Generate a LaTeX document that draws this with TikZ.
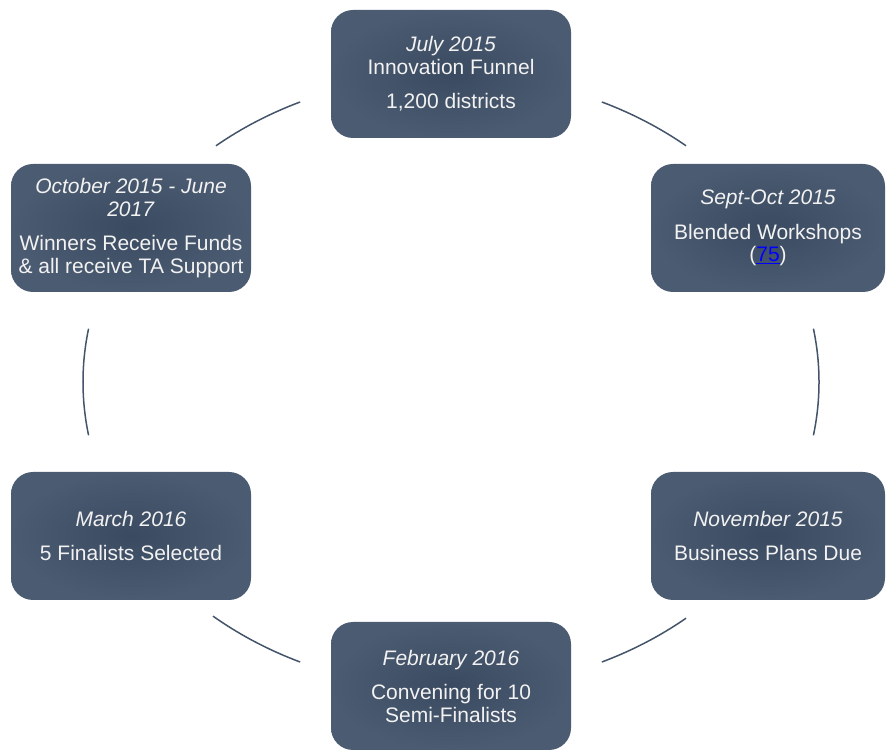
\documentclass[tikz,border=0pt]{standalone}
\usepackage{fontspec}
\setmainfont{Liberation Sans}
\usetikzlibrary{positioning}

\definecolor{slate}{HTML}{44546A}
\definecolor{slatedark}{HTML}{3A4A60}
\definecolor{slatelight}{HTML}{4B5B71}
\definecolor{linkblue}{HTML}{0000FF}

\newcommand{\weblink}[1]{\textcolor{linkblue}{\underline{#1}}}

\begin{document}
\begin{tikzpicture}[x=1pt, y=1pt,
    phase/.style={rounded corners=22pt, minimum width=240pt, minimum height=128pt,
        inner color=slatedark, outer color=slatelight, text=white!95!black, align=center,
        font=\fontsize{21}{22.5}\selectfont, inner sep=2pt},
    cycleline/.style={draw=slate, line width=1.5pt}]

    % Page frame and centre of the cycle
    \useasboundingbox (0,0) rectangle (886,752);
    \coordinate (ctr) at (451,370);

    % Boxes round the cycle
    \node[phase] (jul) at (451,678) {\textit{July 2015}\\Innovation Funnel\\[12pt]1,200 districts};
    \node[phase, minimum width=234pt] (sep) at (768,524) {\textit{Sept-Oct 2015}\\[12pt]Blended Workshops\\(\weblink{75})};
    \node[phase, minimum width=234pt] (nov) at (768,216) {\textit{November 2015}\\[12pt]Business Plans Due};
    \node[phase] (feb) at (451,66) {\textit{February 2016}\\[12pt]Convening for 10\\Semi-Finalists};
    \node[phase] (mar) at (131,216) {\textit{March 2016}\\[12pt]5 Finalists Selected};
    \node[phase] (oct) at (131,524) {\textit{October 2015 - June}\\\textit{2017}\\[12pt]Winners Receive Funds\\\& all receive TA Support};

    % Arcs between the boxes
    \foreach \s/\e in {50.3/65.8, -10/10, 294.2/309.7, 229.7/245.8, 170/190, 114.2/129.7} {
        \draw[cycleline] ([shift={(\s:368pt and 307pt)}]ctr)
            arc[start angle=\s, end angle=\e, x radius=368pt, y radius=307pt];
    }

\end{tikzpicture}
\end{document}
